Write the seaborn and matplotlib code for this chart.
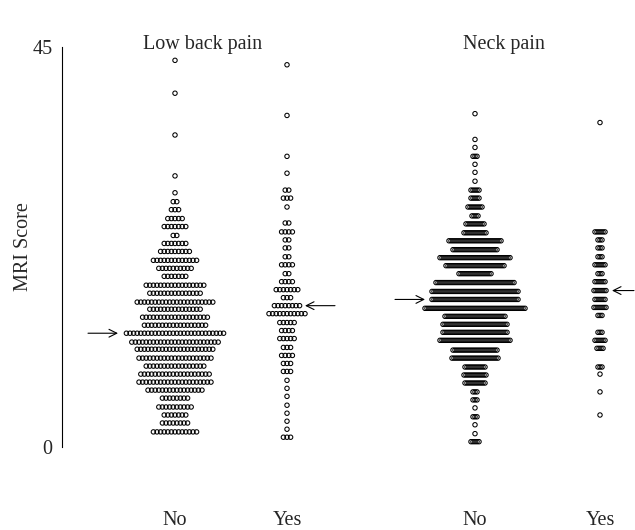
import matplotlib
matplotlib.use("Agg")
import matplotlib.pyplot as plt
import seaborn as sns
import pandas as pd

# On définit les données : score IRM de chaque ligne et nombre de points par ligne
lbp_no_score = [43.5, 39.8, 35.1, 30.5, 28.6, 27.6, 26.7, 25.7, 24.8, 23.8, 22.9, 22.0, 21.0, 20.1, 19.2,
                18.2, 17.3, 16.3, 15.5, 14.6, 13.7, 12.8, 11.8, 11.0, 10.0, 9.1, 8.2, 7.3, 6.4, 5.5,
                4.5, 3.6, 2.7, 1.7]
lbp_no_count = [1, 1, 1, 1, 1, 2, 3, 5, 7, 2, 7, 9, 13, 10, 7,
                17, 15, 22, 15, 19, 18, 28, 25, 22, 21, 17, 20, 21, 16, 8,
                10, 7, 8, 13]

lbp_yes_score = [43.0, 37.3, 32.7, 30.8, 28.9, 28.0, 27.0, 25.2, 24.2, 23.3, 22.4, 21.4, 20.5, 19.5, 18.6,
                 17.7, 16.8, 15.9, 15.0, 14.0, 13.1, 12.2, 11.2, 10.3, 9.4, 8.5, 7.5, 6.6, 5.7, 4.7,
                 3.8, 2.9, 2.0, 1.1]
lbp_yes_count = [1, 1, 1, 1, 2, 3, 1, 2, 4, 2, 2, 2, 4, 2, 4,
                 7, 3, 8, 11, 5, 4, 5, 3, 4, 3, 3, 1, 1, 1, 1,
                 1, 1, 1, 3]

neck_no_score = [37.5, 34.6, 33.7, 32.7, 31.8, 30.9, 29.9, 28.9, 28.0, 27.0, 26.0, 25.1, 24.1, 23.2, 22.2,
                 21.3, 20.4, 19.5, 18.5, 17.5, 16.6, 15.6, 14.7, 13.8, 12.9, 12.0, 10.9, 10.0, 9.0, 8.1,
                 7.2, 6.2, 5.3, 4.4, 3.4, 2.5, 1.5, 0.6]
neck_no_count = [1, 1, 1, 3, 1, 1, 1, 5, 5, 8, 4, 10, 12, 27, 23,
                 36, 30, 17, 40, 44, 44, 51, 31, 33, 33, 36, 23, 24, 11, 12,
                 11, 3, 3, 1, 3, 1, 1, 5]

neck_yes_score = [36.5, 24.2, 23.3, 22.4, 21.4, 20.5, 19.5, 18.6, 17.6, 16.6, 15.7, 14.8, 12.9, 12.0, 11.1,
                  9.0, 8.2, 6.2, 3.6]
neck_yes_count = [1, 6, 3, 3, 3, 6, 3, 6, 7, 6, 7, 3, 3, 6, 4,
                  3, 1, 1, 1]

# Médianes indiquées par les flèches
medians = [12.8, 15.9, 16.6, 17.6]

group_labels = ["No", "Yes", "No", "Yes"]
panel_titles = ["Low back pain", "Neck pain"]

# Mise en page (en pixels de la figure)
W, H = 635, 530
centers = [175, 287, 475, 600]
pitches = [3.6, 3.6, 2.0, 2.0]
arrow_tip = [118, 305, 425, 612]
arrow_tail = [88, 335, 395, 634]
title_x = [203, 504]

groups = [(lbp_no_score, lbp_no_count), (lbp_yes_score, lbp_yes_count),
          (neck_no_score, neck_no_count), (neck_yes_score, neck_yes_count)]

# On construit le tableau des points (un point par sujet, centré sur la ligne)
rows = []
for g, (scores, counts) in enumerate(groups):
    for s, n in zip(scores, counts):
        for k in range(n):
            rows.append({"group": g, "x": centers[g] + (k - (n - 1) / 2) * pitches[g], "score": s})
df = pd.DataFrame(rows)

sns.set_style("white")
plt.rcParams["font.family"] = ["Liberation Serif", "DejaVu Serif"]

fig = plt.figure(figsize=(W / 100, H / 100), dpi=100)
ax = fig.add_axes([62 / W, 83 / H, (W - 62) / W, 400 / H])

sns.scatterplot(data=df, x="x", y="score", marker="o", s=10, facecolor="none",
                edgecolor="black", linewidth=0.75, legend=False, ax=ax, clip_on=False)

# Flèches des médianes
for g in range(4):
    ax.annotate("", xy=(arrow_tip[g], medians[g]), xytext=(arrow_tail[g], medians[g]),
                arrowprops=dict(arrowstyle="->", lw=0.8, color="black", mutation_scale=14,
                                shrinkA=0, shrinkB=0),
                annotation_clip=False)

ax.set_xlim(62, W)
ax.set_ylim(0, 45)
for side in ["top", "right", "bottom"]:
    ax.spines[side].set_visible(False)
ax.spines["left"].set_linewidth(0.8)
ax.spines["left"].set_color("black")

ax.set_yticks([0, 45])
ax.set_yticklabels(["0", "45"], fontsize=14.5)
ax.tick_params(axis="y", length=4.5, width=0.8, direction="out", color="black", pad=2.5)
ax.set_xticks(centers)
ax.set_xticklabels(group_labels, fontsize=14.5)
ax.tick_params(axis="x", length=0, pad=46)
ax.set_xlabel("")
ax.set_ylabel("MRI Score", fontsize=14.5)
ax.yaxis.set_label_coords(-0.05, 0.5)

for t, x in zip(panel_titles, title_x):
    fig.text(x / W, 1 - 44 / H, t, ha="center", va="center", fontsize=14.5)

fig.savefig("out.png", dpi=100)
